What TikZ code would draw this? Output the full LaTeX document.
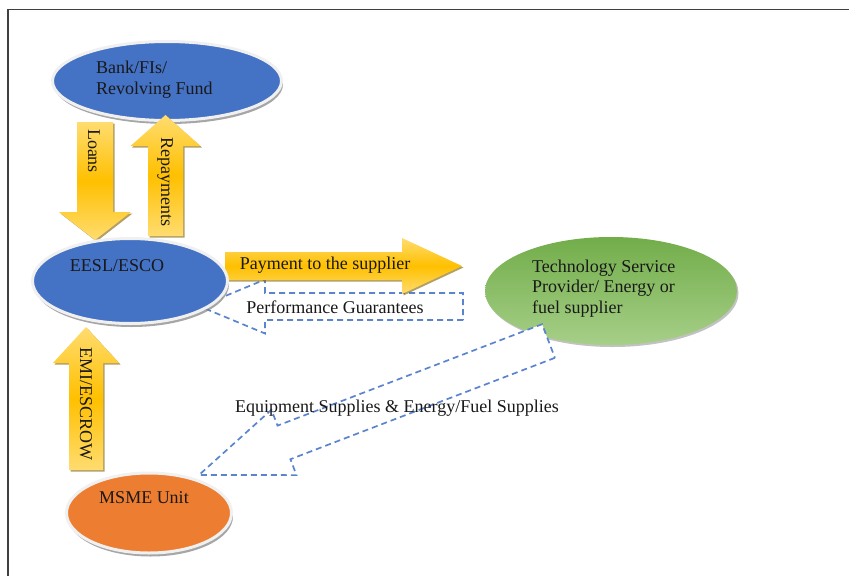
\documentclass[tikz,border=0pt]{standalone}
\usepackage{fontspec}
\setmainfont{Liberation Serif}
\usetikzlibrary{calc,shapes.geometric,shadows}

\definecolor{officeblue}{HTML}{4472C4}
\definecolor{officeorange}{HTML}{ED7D31}
\definecolor{darkgreen}{HTML}{72AD4A}
\definecolor{lightgreen}{HTML}{A6CF88}
\definecolor{gold}{HTML}{FFC000}
\definecolor{lightgold}{HTML}{FFDC70}
\definecolor{dashblue}{HTML}{5B84CF}

% block arrow: [style](tail)(tip)(shaft half width:head half width:head length)
\def\blockarrow[#1](#2)(#3)(#4:#5:#6){%
	\coordinate (ba-h) at ($(#3)!#6!(#2)$);
	\draw[#1] ($(#2)!#4!90:(#3)$) -- ($(ba-h)!#4!90:(#3)$) -- ($(ba-h)!#5!90:(#3)$) -- (#3)
		-- ($(ba-h)!#5!-90:(#3)$) -- ($(ba-h)!#4!-90:(#3)$) -- ($(#2)!#4!-90:(#3)$) -- cycle;}

\tikzset{
	party/.style={ellipse, inner sep=0pt, draw=black!6, line width=3pt,
		drop shadow={shadow xshift=1.5pt, shadow yshift=-3.5pt, fill=black!50, opacity=0.7}},
	goldarrow/.style={draw=none, top color=lightgold, bottom color=lightgold, middle color=gold,
		drop shadow={shadow xshift=1.5pt, shadow yshift=-1.5pt, fill=black!50!gold, opacity=0.6}},
	dasharrow/.style={draw=dashblue, fill=white, line width=1.7pt, dash pattern=on 6pt off 4pt},
	lbl/.style={font=\fontsize{18}{20.5}\selectfont, inner sep=0pt, text=black!90}
}

\begin{document}
\begin{tikzpicture}[x=1pt, y=-1pt, line join=miter]
		%%%%% START %%%%%
		\useasboundingbox (0,0) rectangle (849,576);
		
		\draw[line width=1.5pt, black!75] (8,576) -- (8,9.5) -- (849,9.5);
		
		% arrow ends
		\coordinate (loanA) at (95,122);
		\coordinate (loanB) at (95,240);
		\coordinate (repA) at (165.5,236);
		\coordinate (repB) at (165.5,115);
		\coordinate (emiA) at (86,470);
		\coordinate (emiB) at (86,327);
		\coordinate (payA) at (225,266);
		\coordinate (payB) at (462,266);
		\coordinate (perfA) at (463,306.5);
		\coordinate (perfB) at (200,306.5);
		\coordinate (supA) at (548.5,341);
		\coordinate (supB) at (199,475);
		
		\blockarrow[goldarrow](loanA)(loanB)(18pt:36pt:28pt)
		\blockarrow[dasharrow](perfA)(perfB)(13.5pt:27pt:65pt)
		\blockarrow[goldarrow](payA)(payB)(14pt:28pt:60pt)
		
		\node[ellipse, inner sep=0pt, minimum width=252pt, minimum height=108pt,
			top color=darkgreen, bottom color=lightgreen,
			drop shadow={shadow xshift=1.5pt, shadow yshift=-2pt, fill=black!40, opacity=0.6}] (tech) at (611,291) {};
		\blockarrow[dasharrow](supA)(supB)(18pt:35pt:91pt)
		
		\node[party, fill=officeblue, minimum width=229pt, minimum height=79pt] (bank) at (167,81) {};
		\node[party, fill=officeblue, minimum width=195pt, minimum height=85pt] (eesl) at (130,281) {};
		\node[party, fill=officeorange, minimum width=165pt, minimum height=80pt] (msme) at (149,513) {};
		
		\blockarrow[goldarrow](repA)(repB)(17.5pt:35pt:31pt)
		\blockarrow[goldarrow](emiA)(emiB)(17pt:33pt:36pt)
		
		% texts
		\node[lbl, anchor=base west, align=left] (banktxt) at (96,94) {Bank/FIs/\\Revolving Fund};
		\node[lbl, anchor=base] (eesltxt) at (117,271) {EESL/ESCO};
		\node[lbl, anchor=base west, align=left] (techtxt) at (532,313) {Technology Service\\Provider/ Energy or\\fuel supplier};
		\node[lbl, anchor=base] (msmetxt) at (144,503) {MSME Unit};
		\node[lbl, anchor=base] (paytxt) at (325,269) {Payment to the supplier};
		\node[lbl, anchor=base] (perftxt) at (335,313) {Performance Guarantees};
		\node[lbl, anchor=base] (suptxt) at (397,412) {Equipment Supplies \& Energy/Fuel Supplies};
		\node[lbl, rotate=-90] (loantxt) at (94,151) {Loans};
		\node[lbl, rotate=-90] (reptxt) at (165,182) {Repayments};
		\node[lbl, rotate=-90] (emitxt) at (86,404) {EMI/ESCROW};
		
		%%%%% END %%%%%
	\end{tikzpicture}
\end{document}
